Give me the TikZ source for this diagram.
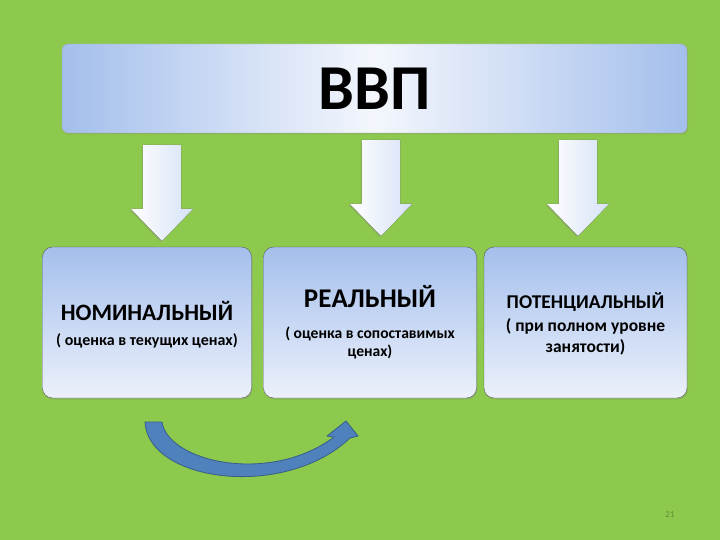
\documentclass[tikz,border=0pt]{standalone}
\usepackage{fontspec}
\setmainfont{Carlito}
\usepackage{tikz}
\usetikzlibrary{shadows}

\definecolor{bggreen}{RGB}{141,201,76}
\definecolor{boxblue}{RGB}{164,191,236}
\definecolor{boxlight}{RGB}{236,241,251}
\definecolor{arrowblue}{RGB}{79,129,189}
\definecolor{arrowedge}{RGB}{56,93,138}

\newcommand{\fsize}[1]{\fontsize{#1}{1.2\dimexpr#1pt\relax}\selectfont\bfseries}

\begin{document}
\begin{tikzpicture}[
    x=1pt, y=-1pt,
    font=\bfseries,
    banner/.style={draw=gray!70, rounded corners=6pt, minimum width=625pt, minimum height=89pt,
      left color=boxblue, right color=boxblue, middle color=boxlight!60!white,
      drop shadow={opacity=0.25, shadow xshift=1pt, shadow yshift=-1.5pt}},
    kind/.style={draw=gray!70!black, rounded corners=10pt, minimum height=151pt, align=center,
      top color=boxblue, bottom color=boxlight, inner sep=2pt,
      drop shadow={opacity=0.25, shadow xshift=1pt, shadow yshift=-1.5pt}},
    downarr/.style={left color=white, right color=boxblue!45!white,
      drop shadow={opacity=0.3, shadow xshift=-1.5pt, shadow yshift=-1pt}}
  ]
    \fill[bggreen] (0,0) rectangle (720,540);
    \useasboundingbox (0,0) rectangle (720,540);

    \node[banner] (gdp) at (374.5,88.5) {\fontsize{64}{64}\selectfont ВВП};

    \node[kind, minimum width=209pt, font=\fsize{16}] (nom) at (147,322.5)
      {{\fsize{23.5}\rule{0pt}{23pt}НОМИНАЛЬНЫЙ}\\[6pt] ( оценка в текущих ценах)};
    \node[kind, minimum width=213pt, font=\fsize{15.6}] (real) at (370,322.5)
      {{\fsize{27}РЕАЛЬНЫЙ}\\[12pt] ( оценка в сопоставимых\\ценах)};
    \node[kind, minimum width=203pt, font=\fsize{17.5}] (pot) at (585.5,322.5)
      {{\fsize{19.5}\rule{0pt}{19pt}ПОТЕНЦИАЛЬНЫЙ}\\[2pt] ( при полном уровне\\занятости)};

    % block arrows from the banner down to the boxes
    \foreach \x/\y in {162/145, 381/140, 578/140}
      \fill[downarr] (\x-19,\y) -- (\x+19,\y) -- (\x+19,\y+64) -- (\x+31,\y+64)
        -- (\x,\y+96) -- (\x-31,\y+64) -- (\x-19,\y+64) -- cycle;

    % curved arrow under the first two boxes
    \filldraw[fill=arrowblue, draw=arrowedge, line width=0.8pt, line join=round]
      (145,422) -- (162,422) .. controls (168,462) and (270,485) .. (334,437)
      -- (327,436) -- (346,421) -- (358,436) -- (350,438)
      .. controls (285,500) and (148,482) .. cycle;

    \node[font=\fontsize{9}{9}\selectfont, text=bggreen!70!black] (page) at (670,515) {21};
\end{tikzpicture}
\end{document}
